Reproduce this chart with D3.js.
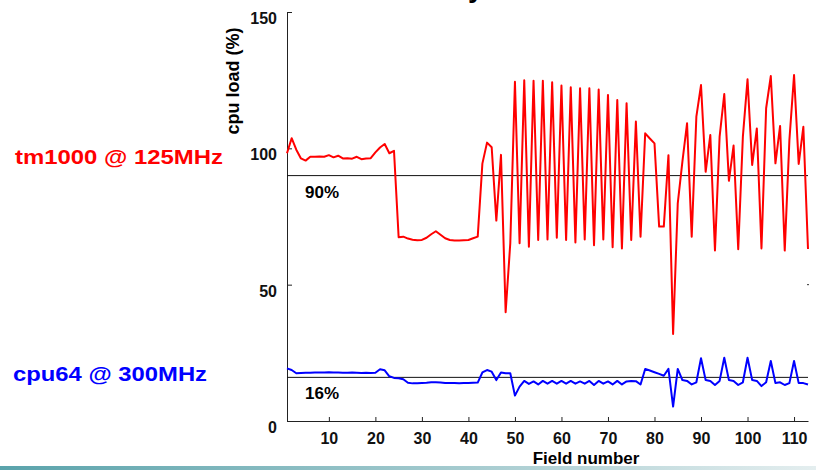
<!DOCTYPE html>
<html lang="en">
<head>
<meta charset="UTF-8">
<title>cpu load</title>
<script src="https://cdn.jsdelivr.net/npm/d3@7/dist/d3.min.js"></script>
<style>
    body { margin: 0; padding: 0; background: white; }
    svg text { font-family: "Liberation Sans", Arial, sans-serif; font-weight: bold; }
    .axis path, .axis line { stroke: #222; }
    .axis text { font-size: 16px; fill: #111; }
</style>
</head>
<body>
<script>
    // field numbers 1..113
    var tm1000 = [98.2, 103.7, 99.5, 96.3, 95.5, 96.9, 96.9, 97.0, 96.9, 97.5,
        96.7, 97.3, 96.3, 96.4, 96.2, 96.9, 96.0, 96.3, 96.4, 98.5,
        100.3, 101.6, 98.2, 99.1, 67.4, 67.6, 66.9, 66.5, 66.3, 66.4,
        67.2, 68.5, 69.6, 68.3, 67.0, 66.4, 66.2, 66.2, 66.3, 66.4,
        67.0, 67.6, 94.4, 102.1, 100.4, 73.5, 97.6, 39.9, 65.2, 124.4,
        65.2, 125.0, 63.9, 124.8, 66.4, 124.8, 66.6, 124.2, 67.2, 123.0,
        66.4, 122.4, 65.5, 122.0, 66.6, 122.0, 64.5, 121.6, 66.6, 119.6,
        63.7, 117.7, 63.3, 116.5, 66.4, 109.8, 67.6, 105.5, 103.6, 101.8,
        71.3, 71.3, 97.5, 31.9, 79.8, 95.1, 109.2, 67.6, 111.6, 123.2,
        91.4, 104.9, 62.5, 104.3, 119.9, 88.1, 101.0, 63.0, 104.3, 125.3,
        93.9, 107.3, 63.3, 114.7, 126.5, 94.5, 108.2, 62.5, 103.0, 126.9,
        94.3, 107.9, 63.1];

    var cpu64 = [19.3, 18.7, 17.5, 17.6, 17.7, 17.7, 17.8, 17.8, 17.8, 17.9,
        17.8, 17.8, 17.7, 17.7, 17.8, 17.7, 17.6, 17.7, 17.6, 17.7,
        19.0, 18.6, 16.4, 15.8, 15.7, 15.3, 14.0, 13.8, 13.8, 13.9,
        14.0, 14.2, 14.2, 14.1, 13.9, 13.9, 13.9, 13.8, 13.9, 13.9,
        14.0, 14.1, 17.8, 18.7, 18.1, 15.0, 17.8, 17.5, 17.5, 9.3,
        12.6, 14.7, 13.6, 14.5, 13.4, 14.7, 13.7, 14.7, 13.7, 14.7,
        13.7, 14.7, 13.7, 14.5, 13.7, 14.7, 13.2, 14.7, 13.7, 14.5,
        13.4, 14.7, 13.4, 14.5, 14.7, 14.6, 13.4, 19.1, 18.5, 17.9,
        17.3, 16.6, 19.1, 5.3, 19.1, 15.0, 14.7, 13.4, 14.2, 23.0,
        15.0, 14.7, 13.2, 14.7, 23.2, 15.0, 14.7, 13.2, 14.2, 23.2,
        15.0, 14.7, 12.8, 14.2, 22.0, 13.9, 14.2, 13.2, 13.9, 22.0,
        13.9, 13.9, 13.4];

    var yTicks = [0, 50, 100, 150];
    var xTicks = [10, 20, 30, 40, 50, 60, 70, 80, 90, 100, 110];
    var refLines = [90, 16];
    var refLabels = ["90%", "16%"];

    var svg = d3.select("body").append("svg")
        .attr("width", 816)
        .attr("height", 470);

    var x = d3.scaleLinear().domain([1, 113]).range([287, 808]);
    var y = d3.scaleLinear().domain([0, 150]).range([421, 12]);

    // bottom band
    var grad = svg.append("defs").append("linearGradient").attr("id", "band");
    grad.append("stop").attr("offset", "0%").attr("stop-color", "#5aa3ab");
    grad.append("stop").attr("offset", "60%").attr("stop-color", "#a9cdd1");
    grad.append("stop").attr("offset", "100%").attr("stop-color", "#e4eeef");
    svg.append("rect").attr("x", 0).attr("y", 466).attr("width", 816).attr("height", 4)
        .attr("fill", "url(#band)");

    // title above the frame, only its descender shows
    svg.append("text").attr("x", 468).attr("y", -3)
        .attr("font-size", 28).text("y");

    // axes
    svg.append("g").attr("class", "axis")
        .attr("transform", "translate(287,0)")
        .call(d3.axisLeft(y).tickValues(yTicks).tickSize(-5).tickSizeOuter(0).tickPadding(10))
        .selectAll("text").attr("dy", "0.72em");

    svg.append("g").attr("class", "axis")
        .attr("transform", "translate(0,421)")
        .call(d3.axisBottom(x).tickValues(xTicks).tickSize(-4).tickSizeOuter(0).tickPadding(12));

    // tiny right tick at 50
    svg.append("line").attr("x1", 807).attr("x2", 809)
        .attr("y1", y(50)).attr("y2", y(50)).attr("stroke", "#333");

    svg.append("text")
        .attr("transform", "translate(239,81) rotate(-90)")
        .attr("text-anchor", "middle")
        .attr("font-size", 18)
        .text("cpu load (%)");

    svg.append("text")
        .attr("x", 586).attr("y", 464)
        .attr("text-anchor", "middle")
        .attr("font-size", 17)
        .text("Field number");

    // reference lines
    svg.selectAll(".ref").data(refLines).enter().append("line")
        .attr("class", "ref")
        .attr("x1", x(1)).attr("x2", x(113))
        .attr("y1", function(d) { return y(d); })
        .attr("y2", function(d) { return y(d); })
        .attr("stroke", "#111").attr("stroke-width", 1);

    svg.selectAll(".reflabel").data(refLines).enter().append("text")
        .attr("class", "reflabel")
        .attr("x", 305)
        .attr("y", function(d) { return y(d) + 22; })
        .attr("font-size", 17)
        .text(function(d, i) { return refLabels[i]; });

    var line = d3.line()
        .x(function(d, i) { return x(i + 1); })
        .y(function(d) { return y(d); });

    svg.append("path").datum(tm1000)
        .attr("d", line).attr("fill", "none")
        .attr("stroke", "#ff0000").attr("stroke-width", 2)
        .attr("stroke-linejoin", "round");

    svg.append("path").datum(cpu64)
        .attr("d", line).attr("fill", "none")
        .attr("stroke", "#0000ff").attr("stroke-width", 2)
        .attr("stroke-linejoin", "round");

    // series names at the left
    svg.append("text").attr("x", 15).attr("y", 164)
        .attr("font-size", 21).attr("fill", "#ff0000")
        .attr("textLength", 208).attr("lengthAdjust", "spacingAndGlyphs")
        .text("tm1000 @ 125MHz");

    svg.append("text").attr("x", 13).attr("y", 381)
        .attr("font-size", 21).attr("fill", "#0000ff")
        .attr("textLength", 194).attr("lengthAdjust", "spacingAndGlyphs")
        .text("cpu64 @ 300MHz");
</script>
</body>
</html>
